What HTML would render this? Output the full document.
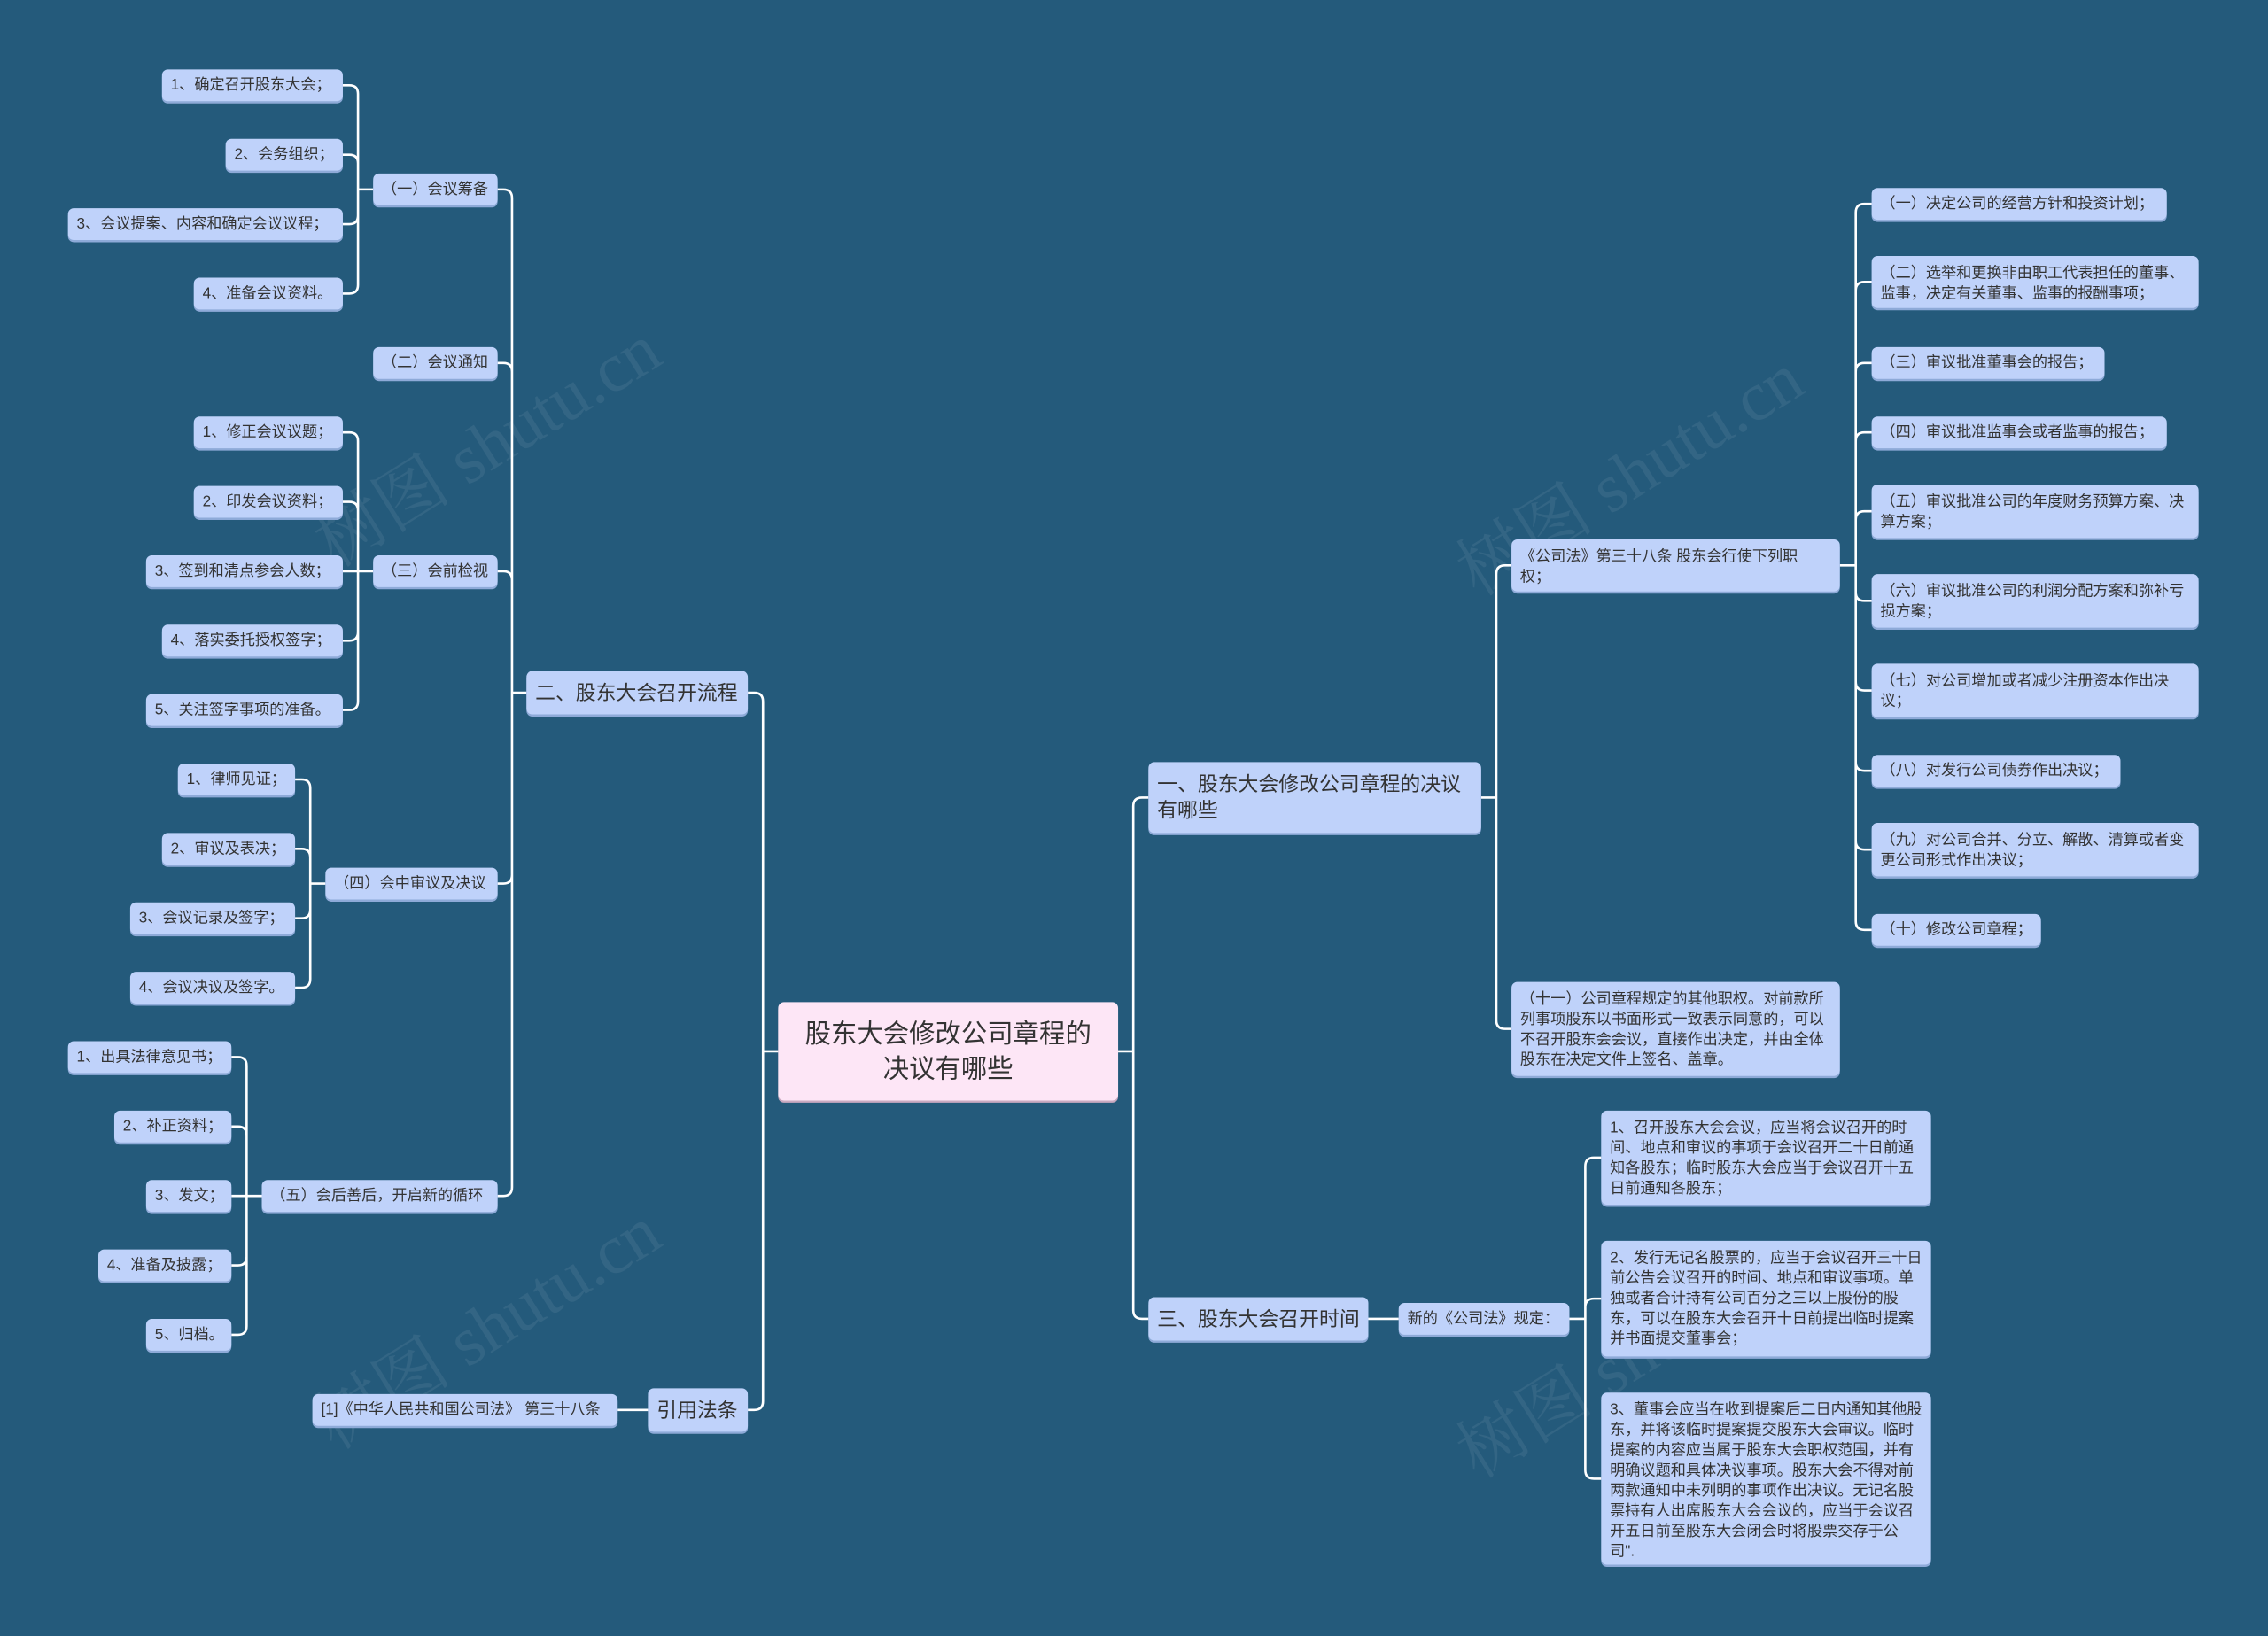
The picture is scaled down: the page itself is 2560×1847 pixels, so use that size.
<!DOCTYPE html>
<html><head><meta charset="utf-8">
<style>
html,body{margin:0;padding:0;}
body{width:2560px;height:1847px;overflow:hidden;background:#245a7b;}
#c{position:absolute;left:0;top:0;width:1568px;height:1131px;transform:scale(1.63265);transform-origin:0 0;font-family:"Liberation Sans","Noto Sans CJK SC",sans-serif;}
.n{position:absolute;box-sizing:border-box;background:#bfd2fa;border-radius:4px;color:#333;font-size:10.5px;line-height:14px;padding:4px 6px;box-shadow:0 1.5px 0 #8eaad8;display:flex;align-items:center;white-space:nowrap;}
.w{white-space:normal;align-items:flex-start;padding-top:5px;}
.m{font-size:14px;line-height:18px;}
.r{background:#fde6f6;font-size:18px;line-height:24px;justify-content:center;text-align:center;white-space:normal;box-shadow:0 1.5px 0 #c9a9c0;padding:4px 14px;}
svg{position:absolute;left:0;top:0;}
.wm{position:absolute;color:rgba(255,255,255,0.07);font-size:48px;transform:rotate(-32deg);white-space:nowrap;font-family:"Liberation Serif","Noto Serif CJK SC",serif;}
</style></head><body>
<div id="c">
<div class="wm" style="left:200px;top:270px;">树图 shutu.cn</div>
<div class="wm" style="left:200px;top:880px;">树图 shutu.cn</div>
<div class="wm" style="left:990px;top:290px;">树图 shutu.cn</div>
<div class="wm" style="left:990px;top:900px;">树图 shutu.cn</div>
<svg id="s" width="1568" height="1131"></svg>

<div class="n" id="a1" style="left:112px;top:48px;width:125px;height:22px;">1、确定召开股东大会；</div>
<div class="n" id="a2" style="left:156px;top:96px;width:81px;height:22px;">2、会务组织；</div>
<div class="n" id="a3" style="left:47px;top:144px;width:190px;height:22px;">3、会议提案、内容和确定会议议程；</div>
<div class="n" id="a4" style="left:134px;top:192px;width:103px;height:22px;">4、准备会议资料。</div>
<div class="n" id="g1" style="left:258px;top:120px;width:86px;height:22px;">（一）会议筹备</div>
<div class="n" id="g2" style="left:258px;top:240px;width:86px;height:22px;">（二）会议通知</div>
<div class="n" id="b1" style="left:134px;top:288px;width:103px;height:22px;">1、修正会议议题；</div>
<div class="n" id="b2" style="left:134px;top:336px;width:103px;height:22px;">2、印发会议资料；</div>
<div class="n" id="b3" style="left:101px;top:384px;width:136px;height:22px;">3、签到和清点参会人数；</div>
<div class="n" id="b4" style="left:112px;top:432px;width:125px;height:22px;">4、落实委托授权签字；</div>
<div class="n" id="b5" style="left:101px;top:480px;width:136px;height:22px;">5、关注签字事项的准备。</div>
<div class="n" id="g3" style="left:258px;top:384px;width:86px;height:22px;">（三）会前检视</div>
<div class="n" id="c1" style="left:123px;top:528px;width:81px;height:22px;">1、律师见证；</div>
<div class="n" id="c2" style="left:112px;top:576px;width:92px;height:22px;">2、审议及表决；</div>
<div class="n" id="c3" style="left:90px;top:624px;width:114px;height:22px;">3、会议记录及签字；</div>
<div class="n" id="c4" style="left:90px;top:672px;width:114px;height:22px;">4、会议决议及签字。</div>
<div class="n" id="g4" style="left:225px;top:600px;width:119px;height:22px;">（四）会中审议及决议</div>
<div class="n" id="d1" style="left:47px;top:720px;width:113px;height:22px;">1、出具法律意见书；</div>
<div class="n" id="d2" style="left:79px;top:768px;width:81px;height:22px;">2、补正资料；</div>
<div class="n" id="d3" style="left:101px;top:816px;width:59px;height:22px;">3、发文；</div>
<div class="n" id="d4" style="left:68px;top:864px;width:92px;height:22px;">4、准备及披露；</div>
<div class="n" id="d5" style="left:101px;top:912px;width:59px;height:22px;">5、归档。</div>
<div class="n" id="g5" style="left:181px;top:816px;width:163px;height:22px;">（五）会后善后，开启新的循环</div>
<div class="n m" id="L1" style="left:364px;top:464px;width:153px;height:30px;">二、股东大会召开流程</div>
<div class="n m" id="L2" style="left:448px;top:960px;width:69px;height:30px;">引用法条</div>
<div class="n" id="e1" style="left:216px;top:964px;width:211px;height:22px;">[1]《中华人民共和国公司法》 第三十八条</div>
<div class="n r" id="R" style="left:538px;top:693px;width:235px;height:68px;">股东大会修改公司章程的决议有哪些</div>

<div class="n m w" id="R1" style="left:794px;top:527px;width:230px;height:49px;padding-top:6px;">一、股东大会修改公司章程的决议有哪些</div>
<div class="n m" id="R3" style="left:794px;top:897px;width:152px;height:30px;">三、股东大会召开时间</div>
<div class="n" id="h1" style="left:967px;top:901px;width:118px;height:22px;">新的《公司法》规定：</div>
<div class="n w" id="f1" style="left:1045px;top:373px;width:227px;height:36px;padding-right:10px;">《公司法》第三十八条 股东会行使下列职权；</div>
<div class="n w" id="f2" style="left:1045px;top:679px;width:227px;height:65px;">（十一）公司章程规定的其他职权。对前款所列事项股东以书面形式一致表示同意的，可以不召开股东会会议，直接作出决定，并由全体股东在决定文件上签名、盖章。</div>
<div class="n" id="k1" style="left:1294px;top:130px;width:204px;height:22px;">（一）决定公司的经营方针和投资计划；</div>
<div class="n w" id="k2" style="left:1294px;top:177px;width:226px;height:36px;">（二）选举和更换非由职工代表担任的董事、监事，决定有关董事、监事的报酬事项；</div>
<div class="n" id="k3" style="left:1294px;top:240px;width:161px;height:22px;">（三）审议批准董事会的报告；</div>
<div class="n" id="k4" style="left:1294px;top:288px;width:204px;height:22px;">（四）审议批准监事会或者监事的报告；</div>
<div class="n w" id="k5" style="left:1294px;top:335px;width:226px;height:37px;">（五）审议批准公司的年度财务预算方案、决算方案；</div>
<div class="n w" id="k6" style="left:1294px;top:397px;width:226px;height:37px;">（六）审议批准公司的利润分配方案和弥补亏损方案；</div>
<div class="n w" id="k7" style="left:1294px;top:459px;width:226px;height:37px;">（七）对公司增加或者减少注册资本作出决议；</div>
<div class="n" id="k8" style="left:1294px;top:522px;width:172px;height:22px;">（八）对发行公司债券作出决议；</div>
<div class="n w" id="k9" style="left:1294px;top:569px;width:226px;height:37px;">（九）对公司合并、分立、解散、清算或者变更公司形式作出决议；</div>
<div class="n" id="k10" style="left:1294px;top:632px;width:117px;height:22px;">（十）修改公司章程；</div>
<div class="n w" id="t1" style="left:1107px;top:768px;width:228px;height:65px;">1、召开股东大会会议，应当将会议召开的时间、地点和审议的事项于会议召开二十日前通知各股东；临时股东大会应当于会议召开十五日前通知各股东；</div>
<div class="n w" id="t2" style="left:1107px;top:858px;width:228px;height:80px;">2、发行无记名股票的，应当于会议召开三十日前公告会议召开的时间、地点和审议事项。单独或者合计持有公司百分之三以上股份的股东，可以在股东大会召开十日前提出临时提案并书面提交董事会；</div>
<div class="n w" id="t3" style="left:1107px;top:963px;width:228px;height:119px;">3、董事会应当在收到提案后二日内通知其他股东，并将该临时提案提交股东大会审议。临时提案的内容应当属于股东大会职权范围，并有明确议题和具体决议事项。股东大会不得对前两款通知中未列明的事项作出决议。无记名股票持有人出席股东大会会议的，应当于会议召开五日前至股东大会闭会时将股票交存于公司".</div>
</div>
<script>
var T=[["g1",["a1","a2","a3","a4"],-1],["g3",["b1","b2","b3","b4","b5"],-1],["g4",["c1","c2","c3","c4"],-1],["g5",["d1","d2","d3","d4","d5"],-1],
["L1",["g1","g2","g3","g4","g5"],-1],["L2",["e1"],-1],["R",["L1","L2"],-1],["R",["R1","R3"],1],["R1",["f1","f2"],1],["f1",["k1","k2","k3","k4","k5","k6","k7","k8","k9","k10"],1],["R3",["h1"],1],["h1",["t1","t2","t3"],1]];
var s=document.getElementById("s"),d="";
function g(i){var e=document.getElementById(i);return {l:e.offsetLeft,t:e.offsetTop,w:e.offsetWidth,h:e.offsetHeight};}
T.forEach(function(x){var p=g(x[0]),dir=x[2];var py=p.t+p.h/2,px=dir>0?p.l+p.w:p.l;
x[1].forEach(function(ci){var c=g(ci);var cy=c.t+c.h/2,cx=dir>0?c.l:c.l+c.w;var bx=(px+cx)/2;var r=6;
if(Math.abs(cy-py)<1){d+="M"+px+","+py+"H"+cx;return;}
var sg=cy>py?1:-1;d+="M"+px+","+py+"H"+bx+"V"+(cy-sg*r)+"Q"+bx+","+cy+" "+(bx+dir*r)+","+cy+"H"+cx;});});
s.innerHTML='<path d="'+d+'" fill="none" stroke="#ffffff" stroke-width="1.6"/>';
</script>
</body></html>
